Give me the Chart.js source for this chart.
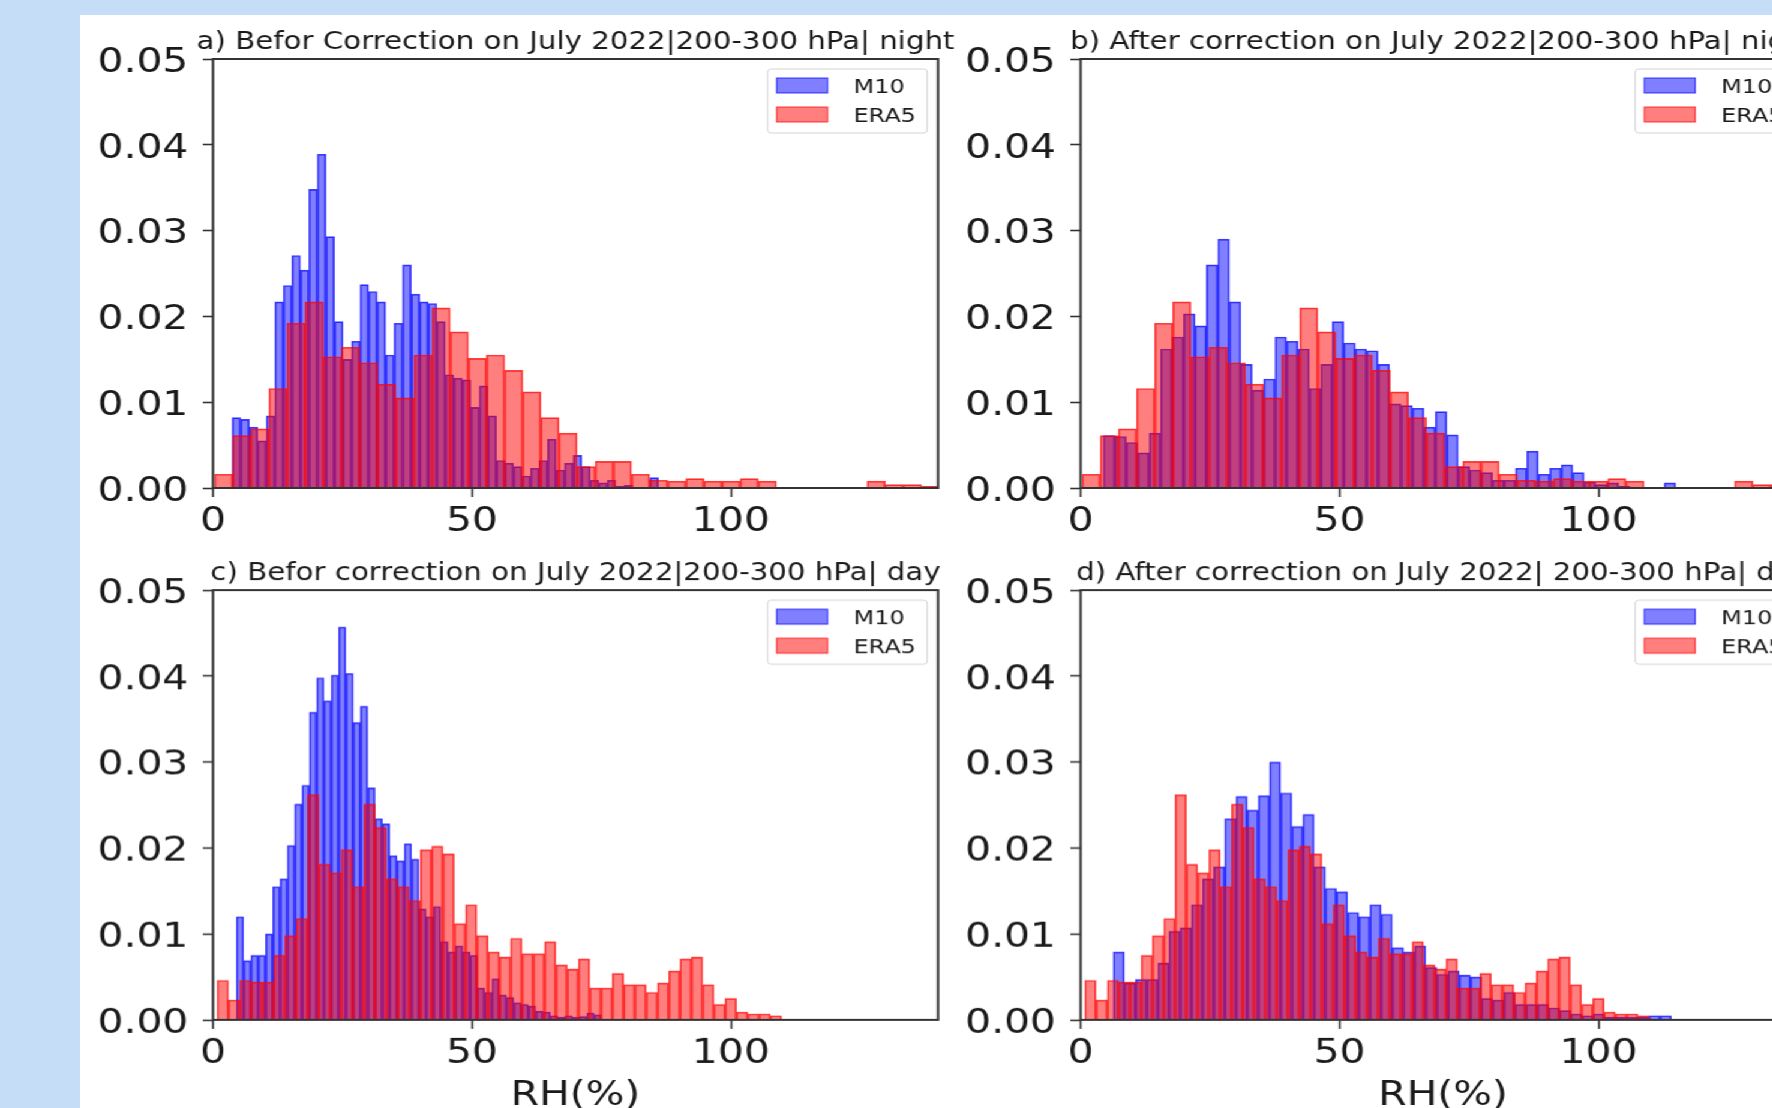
<!DOCTYPE html>
<html>
<head>
<meta charset="utf-8">
<title>RH histograms M10 vs ERA5</title>
<script src="https://cdn.jsdelivr.net/npm/chart.js@4.4.1/dist/chart.umd.min.js"></script>
<style>
  html, body { margin: 0; padding: 0; width: 1772px; height: 1108px; overflow: hidden; background: #c6ddf7; }
  #sheet { position: absolute; left: 80px; top: 15px; right: 0; bottom: 0; background: #fff; }
  /* the original figure was stretched sideways, so the panels are drawn narrow and widened here */
  #stretch { position: absolute; left: 0; top: 0; width: 1600px; height: 1108px; transform: scaleX(1.2); transform-origin: 0 0; }
  .panel { position: absolute; width: 800px; }
  .panel canvas { display: block; }
  .top { top: 0; height: 545px; }
  .bottom { top: 531px; height: 584.5px; }
  .left { left: 0; }
  .right { left: 723.3px; }
</style>
</head>
<body>
<div id="sheet"></div>
<div id="stretch">
  <div class="panel top left"><canvas id="chartA"></canvas></div>
  <div class="panel top right"><canvas id="chartB"></canvas></div>
  <div class="panel bottom left"><canvas id="chartC"></canvas></div>
  <div class="panel bottom right"><canvas id="chartD"></canvas></div>
</div>
<script>
// ---- values (density per bin) ----
const seriesNames = ["M10", "ERA5"];
const xTicks = [0, 50, 100];
const yTicks = [0, 0.01, 0.02, 0.03, 0.04, 0.05];
const xTitle = "RH(%)";

const panelTitles = [
  "a) Befor Correction on July 2022|200-300 hPa| night",
  "b) After correction on July 2022|200-300 hPa| night",
  "c) Befor correction on July 2022|200-300 hPa| day",
  "d) After correction on July 2022| 200-300 hPa| day"
];

// bins: [first edge, bin width] in RH %
const m10NightBeforeBins = [3.7, 1.646];
const m10NightAfterBins = [4.4, 2.21];
const m10DayBeforeBins = [4.5, 1.41];
const m10DayAfterBins = [6.3, 2.155];
const eraNightBins = [0.3, 3.5];
const eraDayBins = [0.8, 2.18];

const m10NightBefore = [
  0.0082, 0.0080, 0.0071, 0.0055, 0.0084, 0.0217, 0.0236, 0.0271, 0.0254, 0.0348,
  0.0389, 0.0293, 0.0194, 0.0150, 0.0171, 0.0237, 0.0229, 0.0217, 0.0155, 0.0192,
  0.0260, 0.0226, 0.0217, 0.0215, 0.0194, 0.0132, 0.0128, 0.0126, 0.0094, 0.0119,
  0.0084, 0.0032, 0.0029, 0.0025, 0.0014, 0.0023, 0.0032, 0.0057, 0.0021, 0.0029,
  0.0038, 0.0025, 0.0009, 0.0006, 0.0009, 0.0002, 0.0003, 0.0000, 0.0000, 0.0012
];
const m10NightAfter = [
  0.0061, 0.0060, 0.0053, 0.0041, 0.0064, 0.0162, 0.0176, 0.0203, 0.0189, 0.0260,
  0.0290, 0.0217, 0.0144, 0.0114, 0.0127, 0.0176, 0.0171, 0.0162, 0.0116, 0.0144,
  0.0194, 0.0169, 0.0162, 0.0160, 0.0144, 0.0098, 0.0096, 0.0093, 0.0071, 0.0089,
  0.0062, 0.0025, 0.0021, 0.0018, 0.0009, 0.0009, 0.0023, 0.0043, 0.0016, 0.0023,
  0.0027, 0.0018, 0.0007, 0.0004, 0.0006, 0.0002, 0.0001, 0.0000, 0.0000, 0.0006
];
const m10DayBefore = [
  0.0120, 0.0069, 0.0075, 0.0075, 0.0100, 0.0155, 0.0164, 0.0203, 0.0251, 0.0273,
  0.0358, 0.0398, 0.0371, 0.0401, 0.0457, 0.0403, 0.0346, 0.0365, 0.0270, 0.0234,
  0.0228, 0.0191, 0.0185, 0.0205, 0.0187, 0.0129, 0.0120, 0.0132, 0.0091, 0.0079,
  0.0086, 0.0079, 0.0075, 0.0037, 0.0032, 0.0048, 0.0029, 0.0026, 0.0020, 0.0018,
  0.0016, 0.0010, 0.0009, 0.0005, 0.0003, 0.0005, 0.0003, 0.0004, 0.0008, 0.0006
];
const m10DayAfter = [
  0.0079, 0.0043, 0.0047, 0.0047, 0.0066, 0.0103, 0.0107, 0.0134, 0.0164, 0.0178,
  0.0234, 0.0260, 0.0244, 0.0261, 0.0300, 0.0264, 0.0225, 0.0239, 0.0178, 0.0153,
  0.0149, 0.0125, 0.0120, 0.0134, 0.0123, 0.0084, 0.0079, 0.0086, 0.0061, 0.0053,
  0.0057, 0.0052, 0.0050, 0.0025, 0.0023, 0.0032, 0.0018, 0.0018, 0.0018, 0.0014,
  0.0011, 0.0007, 0.0005, 0.0007, 0.0003, 0.0003, 0.0003, 0.0003, 0.0005, 0.0005
];
// ERA5 is the same before and after correction
const eraNight = [
  0.0016, 0.0061, 0.0069, 0.0116, 0.0192, 0.0217, 0.0153, 0.0164, 0.0146, 0.0121,
  0.0105, 0.0155, 0.0210, 0.0182, 0.0151, 0.0155, 0.0137, 0.0112, 0.0082, 0.0064,
  0.0025, 0.0031, 0.0031, 0.0016, 0.0009, 0.0008, 0.0011, 0.0008, 0.0008, 0.0011,
  0.0008, 0.0000, 0.0000, 0.0000, 0.0000, 0.0000, 0.0008, 0.0004, 0.0004, 0.0002
];
const eraDay = [
  0.0046, 0.0023, 0.0046, 0.0044, 0.0044, 0.0075, 0.0098, 0.0118, 0.0262, 0.0181,
  0.0171, 0.0198, 0.0155, 0.0251, 0.0224, 0.0164, 0.0155, 0.0139, 0.0198, 0.0202,
  0.0193, 0.0112, 0.0134, 0.0098, 0.0079, 0.0073, 0.0095, 0.0077, 0.0077, 0.0091,
  0.0064, 0.0059, 0.0071, 0.0037, 0.0037, 0.0054, 0.0041, 0.0041, 0.0032, 0.0043,
  0.0057, 0.0071, 0.0073, 0.0041, 0.0018, 0.0025, 0.0009, 0.0007, 0.0007, 0.0005
];

// ---- drawing ----
const FONT = "DejaVu Sans";
const INK = "#1a1a1a";

// put every bar at the centre of its bin
function toBars(values, bins) {
  const [first, width] = bins;
  return values.map((v, i) => ({ x: first + (i + 0.5) * width, y: v }));
}

// frame on all four sides, panel title and the legend box (top right)
const panelDecor = {
  id: "panelDecor",
  afterDraw(chart, args, opts) {
    const { ctx, chartArea: a } = chart;
    ctx.save();
    ctx.strokeStyle = "#333";
    ctx.lineWidth = 2;
    ctx.strokeRect(a.left, a.top, a.right - a.left, a.bottom - a.top);

    ctx.fillStyle = INK;
    ctx.font = `24.4px '${FONT}'`;
    ctx.textAlign = "center";
    ctx.textBaseline = "middle";
    ctx.fillText(opts.title, (a.left + a.right) / 2, a.top - 16.5);

    const boxW = 133, boxH = 64;
    const boxL = a.right - 9 - boxW, boxT = a.top + 10;
    ctx.fillStyle = "rgba(255,255,255,0.85)";
    ctx.strokeStyle = "#d4d4d4";
    ctx.lineWidth = 1;
    ctx.beginPath();
    ctx.roundRect(boxL, boxT, boxW, boxH, 3);
    ctx.fill();
    ctx.stroke();

    ctx.font = `20px '${FONT}'`;
    ctx.textAlign = "left";
    chart.data.datasets.forEach((ds, i) => {
      const sy = boxT + 9 + i * 29;
      ctx.fillStyle = ds.backgroundColor;
      ctx.fillRect(boxL + 7.5, sy, 42.5, 15);
      ctx.strokeStyle = ds.borderColor;
      ctx.strokeRect(boxL + 7.5, sy, 42.5, 15);
      ctx.fillStyle = INK;
      ctx.fillText(ds.label, boxL + 71.5, sy + 9.5);
    });
    ctx.restore();
  }
};

function makePanel(id, title, m10, m10Bins, era, eraBins, bottomRow) {
  const ctx = document.getElementById(id);
  return new Chart(ctx, {
    type: "bar",
    data: {
      datasets: [
        {
          label: seriesNames[0],
          data: toBars(m10, m10Bins),
          xAxisID: "x",
          backgroundColor: "rgba(0, 0, 255, 0.5)",
          borderColor: "rgba(0, 0, 255, 0.75)",
          borderWidth: 1,
          order: 2
        },
        {
          label: seriesNames[1],
          data: toBars(era, eraBins),
          xAxisID: "x2", // own axis so its bars get their own bin width
          backgroundColor: "rgba(255, 0, 0, 0.5)",
          borderColor: "rgba(255, 0, 0, 0.75)",
          borderWidth: 1,
          order: 1
        }
      ]
    },
    options: {
      animation: false,
      responsive: true,
      maintainAspectRatio: false,
      datasets: { bar: { barPercentage: 1, categoryPercentage: 1, grouped: false } },
      layout: { padding: { top: 59, right: 18.3, left: 0, bottom: 0 } },
      scales: {
        x: {
          type: "linear",
          min: 0,
          max: 140,
          offset: false,
          afterFit: (s) => { s.height = bottomRow ? 96.5 : 57; },
          afterBuildTicks: (s) => { s.ticks = xTicks.map((v) => ({ value: v })); },
          ticks: { padding: 4.5, color: INK, maxRotation: 0, font: { family: FONT, size: 34 } },
          grid: { offset: false, drawOnChartArea: false, tickLength: 9, tickColor: "#333", tickWidth: 1.6 },
          border: { display: false },
          title: {
            display: bottomRow,
            text: xTitle,
            color: INK,
            padding: 0,
            font: { family: FONT, size: 34 }
          }
        },
        x2: { type: "linear", min: 0, max: 140, offset: false, display: false, grid: { offset: false } },
        y: {
          min: 0,
          max: 0.05,
          afterFit: (s) => { s.width = 177.5; },
          afterBuildTicks: (s) => { s.ticks = yTicks.map((v) => ({ value: v })); },
          ticks: {
            padding: 12,
            labelOffset: 4,
            color: INK,
            font: { family: FONT, size: 34 },
            callback: (v) => Number(v).toFixed(2)
          },
          grid: { drawOnChartArea: false, tickLength: 8.5, tickColor: "#333", tickWidth: 1.6 },
          border: { display: false }
        }
      },
      plugins: {
        legend: { display: false },
        tooltip: { enabled: false },
        panelDecor: { title: title }
      }
    },
    plugins: [panelDecor]
  });
}

makePanel("chartA", panelTitles[0], m10NightBefore, m10NightBeforeBins, eraNight, eraNightBins, false);
makePanel("chartB", panelTitles[1], m10NightAfter, m10NightAfterBins, eraNight, eraNightBins, false);
makePanel("chartC", panelTitles[2], m10DayBefore, m10DayBeforeBins, eraDay, eraDayBins, true);
makePanel("chartD", panelTitles[3], m10DayAfter, m10DayAfterBins, eraDay, eraDayBins, true);
</script>
</body>
</html>
